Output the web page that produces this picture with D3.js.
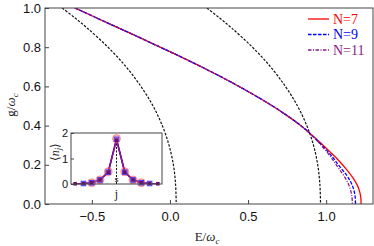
<!DOCTYPE html>
<html><head><meta charset="utf-8">
<script src="https://cdn.jsdelivr.net/npm/d3@7"></script>
<style>html,body{margin:0;padding:0;background:#fff;}svg{display:block;}</style>
</head><body>
<svg id="c" width="374" height="246"></svg>
<script>
// ---- data ----
const xTicks = [-0.5, 0, 0.5, 1.0];
const yTicks = [0, 0.2, 0.4, 0.6, 0.8, 1.0];
const gLevels = [1.0, 0.95, 0.9, 0.8, 0.7, 0.6, 0.5, 0.4, 0.3, 0.2, 0.1, 0.0];
const dashed1E = [-0.69, -0.609, -0.533, -0.397, -0.281, -0.186, -0.108, -0.049, -0.006, 0.022, 0.036, 0.04];
const dashed2E = [0.237, 0.316, 0.392, 0.528, 0.644, 0.739, 0.817, 0.876, 0.919, 0.946, 0.96, 0.964];
// shared upper branch of the N curves (E, g)
const upperE = [-0.609, -0.4, -0.2, 0.0, 0.213, 0.428, 0.641, 0.75, 0.833, 0.89];
const upperG = [1.0, 0.924, 0.851, 0.777, 0.695, 0.606, 0.508, 0.451, 0.403, 0.365];
const tail7E = [0.96, 1.03, 1.08, 1.13, 1.175, 1.2, 1.215, 1.222, 1.224];
const tail7G = [0.315, 0.262, 0.222, 0.177, 0.13, 0.095, 0.062, 0.031, 0.0];
const tail9E = [0.96, 1.03, 1.08, 1.13, 1.16, 1.178, 1.186, 1.188];
const tail9G = [0.31, 0.25, 0.198, 0.148, 0.108, 0.07, 0.035, 0.0];
const tail11E = [0.96, 1.03, 1.06, 1.1, 1.135, 1.155, 1.165, 1.168];
const tail11G = [0.307, 0.24, 0.205, 0.16, 0.115, 0.075, 0.038, 0.0];
const seriesNames = ["N=7", "N=9", "N=11"];
const seriesColors = ["#ff0000", "#0000ff", "#8b1a8b"];
// inset: site occupation <n_j>
const sites7 = [-3, -2, -1, 0, 1, 2, 3];
const occ7 = [0.05, 0.16, 0.48, 1.78, 0.48, 0.16, 0.05];
const sites9 = [-4, -3, -2, -1, 0, 1, 2, 3, 4];
const occ9 = [0.02, 0.05, 0.16, 0.46, 1.75, 0.46, 0.16, 0.05, 0.02];
const sites11 = [-5, -4, -3, -2, -1, 0, 1, 2, 3, 4, 5];
const occ11 = [0.01, 0.02, 0.05, 0.16, 0.46, 1.72, 0.46, 0.16, 0.05, 0.02, 0.01];
const insetYTicks = [0, 1, 2];

// ---- drawing ----
const svg = d3.select("#c");
const L = 45, R = 373, T = 8, B = 204;
const x = d3.scaleLinear([-0.8, 1.3], [L, R]);
const y = d3.scaleLinear([0, 1], [B, T]);

svg.append("defs").append("clipPath").attr("id", "clip")
  .append("rect").attr("x", L).attr("y", T).attr("width", R - L).attr("height", B - T);

const line = d3.line().x(d => x(d[0])).y(d => y(d[1])).curve(d3.curveCatmullRom.alpha(0.5));
const zip = (a, b) => a.map((v, i) => [v, b[i]]);

const plot = svg.append("g").attr("clip-path", "url(#clip)");
[dashed1E, dashed2E].forEach(E => {
  plot.append("path").attr("d", line(zip(E, gLevels)))
    .attr("fill", "none").attr("stroke", "#111").attr("stroke-width", 1.2)
    .attr("stroke-dasharray", "2.5,1.5");
});
const upper = zip(upperE, upperG);
const curves = [upper.concat(zip(tail7E, tail7G)), upper.concat(zip(tail9E, tail9G)), upper.concat(zip(tail11E, tail11G))];
const dashes = [null, "3.5,1.5", "3.5,1.5,1,1.5"];
curves.forEach((c, i) => {
  plot.append("path").attr("d", line(c)).attr("fill", "none")
    .attr("stroke", seriesColors[i]).attr("stroke-width", 1.3)
    .attr("stroke-dasharray", dashes[i]);
});

// frame
svg.append("rect").attr("x", L).attr("y", T).attr("width", R - L).attr("height", B - T)
  .attr("fill", "none").attr("stroke", "#444").attr("stroke-width", 1);

// axes
const xAxis = d3.axisBottom(x).tickValues(xTicks).tickSizeInner(-4).tickSizeOuter(0).tickPadding(8)
  .tickFormat(d => d3.format(".1f")(d).replace("-", "\u2212"));
const gx = svg.append("g").attr("transform", `translate(0,${B})`).call(xAxis);
const yAxis = d3.axisLeft(y).tickValues(yTicks).tickSizeInner(-4).tickSizeOuter(0).tickPadding(4)
  .tickFormat(d3.format(".1f"));
const gy = svg.append("g").attr("transform", `translate(${L},0)`).call(yAxis);
[gx, gy].forEach(g => {
  g.select(".domain").remove();
  g.selectAll("line").attr("stroke", "#444");
  g.selectAll("text").attr("font-family", "Liberation Sans, Arial, sans-serif").attr("font-size", 13).attr("fill", "#111");
});

// axis labels
const xl = svg.append("text").attr("x", 207).attr("y", 241).attr("text-anchor", "middle")
  .attr("font-family", "Liberation Serif, Times New Roman, serif").attr("font-size", 13).attr("fill", "#222");
xl.append("tspan").text("E/");
xl.append("tspan").attr("font-style", "italic").text("\u03c9");
xl.append("tspan").attr("font-style", "italic").attr("font-size", 9).attr("dy", 3).text("c");
const yl = svg.append("text").attr("transform", "translate(15,105) rotate(-90)").attr("text-anchor", "middle")
  .attr("font-family", "Liberation Serif, Times New Roman, serif").attr("font-size", 13).attr("fill", "#222");
yl.append("tspan").text("g/");
yl.append("tspan").attr("font-style", "italic").text("\u03c9");
yl.append("tspan").attr("font-style", "italic").attr("font-size", 9).attr("dy", 3).text("c");

// legend
const lg = svg.append("g");
seriesNames.forEach((n, i) => {
  const yy = 19 + i * 15.5;
  lg.append("line").attr("x1", 308).attr("x2", 329).attr("y1", yy).attr("y2", yy)
    .attr("stroke", seriesColors[i]).attr("stroke-width", 1.3).attr("stroke-dasharray", dashes[i]);
  lg.append("text").attr("x", 333).attr("y", yy + 4.5).text(n)
    .attr("font-family", "Liberation Serif, Times New Roman, serif").attr("font-size", 14)
    .attr("fill", seriesColors[i]);
});

// inset
const IL = 71, IR = 162, IT = 133, IB = 184;
const xi = d3.scaleLinear([-5.5, 5.5], [IL, IR]);
const yi = d3.scaleLinear([0, 2], [IB, IT]);
const inset = svg.append("g");
inset.append("rect").attr("x", IL).attr("y", IT).attr("width", IR - IL).attr("height", IB - IT).attr("fill", "#fff");
inset.append("line").attr("x1", xi(0)).attr("x2", xi(0)).attr("y1", yi(0)).attr("y2", yi(occ9[4]))
  .attr("stroke", "#111").attr("stroke-width", 1).attr("stroke-dasharray", "2,1.5");
inset.append("text").attr("x", xi(0)).attr("y", 182).attr("text-anchor", "middle").text("s")
  .attr("font-family", "Liberation Sans, Arial, sans-serif").attr("font-size", 8).attr("fill", "#222");
const il = d3.line().x(d => xi(d[0])).y(d => yi(d[1]));
const insetSeries = [zip(sites7, occ7), zip(sites9, occ9), zip(sites11, occ11)];
insetSeries.forEach((s, i) => {
  inset.append("path").attr("d", il(s)).attr("fill", "none").attr("stroke", seriesColors[i]).attr("stroke-width", 1.4);
});
inset.selectAll("circle.m7").data(insetSeries[0]).join("circle")
  .attr("cx", d => xi(d[0])).attr("cy", d => yi(d[1])).attr("r", 4)
  .attr("fill", "rgba(255,60,60,0.4)").attr("stroke", "rgba(255,80,80,0.6)").attr("stroke-width", 0.8);
inset.selectAll("rect.m9").data(insetSeries[1]).join("rect")
  .attr("x", d => xi(d[0]) - 2.3).attr("y", d => yi(d[1]) - 2.3).attr("width", 4.6).attr("height", 4.6)
  .attr("fill", "rgba(120,120,255,0.35)").attr("stroke", "#3a3aff").attr("stroke-width", 0.9);
inset.selectAll("rect.m11").data(insetSeries[2]).join("rect")
  .attr("x", d => xi(d[0]) - 1.8).attr("y", d => yi(d[1]) - 1.8).attr("width", 3.6).attr("height", 3.6)
  .attr("fill", "#6a0f6a");
inset.append("rect").attr("x", IL).attr("y", IT).attr("width", IR - IL).attr("height", IB - IT)
  .attr("fill", "none").attr("stroke", "#444").attr("stroke-width", 1);
const iy = d3.axisLeft(yi).tickValues(insetYTicks).tickSizeInner(-3).tickSizeOuter(0).tickPadding(3).tickFormat(d3.format("d"));
const giy = inset.append("g").attr("transform", `translate(${IL},0)`).call(iy);
giy.select(".domain").remove();
giy.selectAll("line").attr("stroke", "#444");
giy.selectAll("text").attr("font-family", "Liberation Sans, Arial, sans-serif").attr("font-size", 11).attr("fill", "#111");
const iyl = inset.append("text").attr("transform", "translate(59,152) rotate(-90)").attr("text-anchor", "middle")
  .attr("font-family", "Liberation Serif, Times New Roman, serif").attr("font-size", 12).attr("fill", "#222");
iyl.append("tspan").text("\u27e8");
iyl.append("tspan").attr("font-style", "italic").text("n");
iyl.append("tspan").attr("font-style", "italic").attr("font-size", 9).attr("dy", 2).text("j");
iyl.append("tspan").attr("dy", -2).text("\u27e9");
inset.append("text").attr("x", xi(0)).attr("y", 198).attr("text-anchor", "middle").text("j")
  .attr("font-family", "Liberation Serif, Times New Roman, serif").attr("font-size", 12).attr("fill", "#222");
</script>
</body></html>
